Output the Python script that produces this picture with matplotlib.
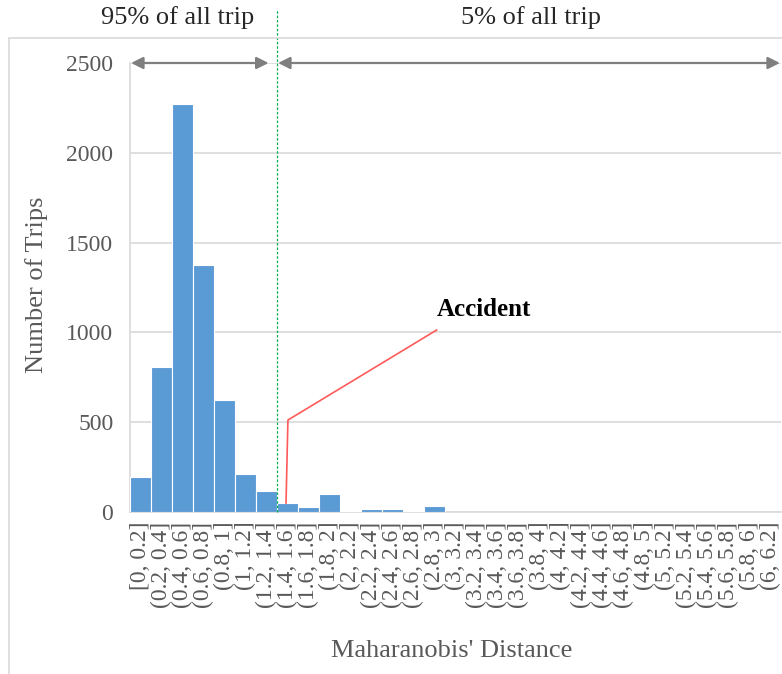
import matplotlib
matplotlib.use('Agg')
import matplotlib.pyplot as plt
from matplotlib.patches import Rectangle

bins = ['[0, 0.2]', '(0.2, 0.4]', '(0.4, 0.6]', '(0.6, 0.8]', '(0.8, 1]',
        '(1, 1.2]', '(1.2, 1.4]', '(1.4, 1.6]', '(1.6, 1.8]', '(1.8, 2]',
        '(2, 2.2]', '(2.2, 2.4]', '(2.4, 2.6]', '(2.6, 2.8]', '(2.8, 3]',
        '(3, 3.2]', '(3.2, 3.4]', '(3.4, 3.6]', '(3.6, 3.8]', '(3.8, 4]',
        '(4, 4.2]', '(4.2, 4.4]', '(4.4, 4.6]', '(4.6, 4.8]', '(4.8, 5]',
        '(5, 5.2]', '(5.2, 5.4]', '(5.4, 5.6]', '(5.6, 5.8]', '(5.8, 6]',
        '(6, 6.2]']
trips = [195, 807, 2272, 1375, 624, 212, 117, 50, 28, 100,
         5, 15, 15, 5, 33, 0, 0, 0, 0, 0,
         0, 0, 0, 0, 0, 0, 0, 0, 0, 0, 0]
yticks = [0, 500, 1000, 1500, 2000, 2500]
cut_idx = 7          # first bin beyond the 95% threshold
accident_idx = 7     # bin that holds the accident trip

plt.rcParams['font.family'] = ['Liberation Serif', 'DejaVu Serif']
grey_txt = '#595959'
light = '#D9D9D9'

fig = plt.figure(figsize=(7.82, 6.74), dpi=100)
# outer chart frame
fig.patches.append(Rectangle((9 / 782, -0.1), 1.2, 1.1 - 38 / 674, transform=fig.transFigure,
                             fill=False, edgecolor=light, lw=1.2))
ax = fig.add_axes([130 / 782, 1 - 512 / 674, 651 / 782, 449 / 674])

x = list(range(len(bins)))
ax.bar(x, trips, width=1.0, color='#5B9BD5', edgecolor='white', lw=0.8, zorder=3)
ax.set_xlim(-0.5, len(bins) - 0.5)
ax.set_ylim(0, 2500)
ax.set_yticks(yticks)
ax.set_xticks(x)
ax.set_xticklabels(bins, rotation=90, fontsize=17, color=grey_txt)
ax.tick_params(axis='y', labelsize=17, labelcolor=grey_txt, length=0, pad=12)
ax.tick_params(axis='x', length=0, pad=7)
ax.yaxis.grid(True, color=light, lw=1.2, zorder=0)
for s in ['top', 'right']:
    ax.spines[s].set_visible(False)
for s in ['left', 'bottom']:
    ax.spines[s].set_color(light)
    ax.spines[s].set_linewidth(1.2)

# 95% threshold line
ax.plot([cut_idx - 0.5, cut_idx - 0.5], [0, 2795], color='#00B050', lw=0.9,
        ls=(0, (2, 1.5)), clip_on=False, zorder=5)

# range arrows
arrow_kw = dict(arrowstyle='<|-|>', color='#7F7F7F', lw=1.6, mutation_scale=18,
                shrinkA=0, shrinkB=0)
ax.annotate('', xy=(-0.45, 2500), xytext=(cut_idx - 0.9, 2500),
            arrowprops=arrow_kw, annotation_clip=False)
ax.annotate('', xy=(cut_idx - 0.45, 2500), xytext=(len(bins) - 0.55, 2500),
            arrowprops=arrow_kw, annotation_clip=False)
fig.text(178 / 782, 1 - 18 / 674, '95% of all trip', fontsize=19, color='#262626',
         ha='center', va='center')
fig.text(531 / 782, 1 - 18 / 674, '5% of all trip', fontsize=19, color='#262626',
         ha='center', va='center')

# accident callout
ax.plot([accident_idx - 0.07, accident_idx + 0.02, 14.1],
        [trips[accident_idx], 512, 1013], color='#FF5A5A', lw=1.2, zorder=6)
fig.text(437 / 782, 1 - 310 / 674, 'Accident', fontsize=18, fontweight='bold',
         ha='left', va='center')

fig.text(37 / 782, 1 - 285 / 674, 'Number of Trips', fontsize=19, color=grey_txt,
         rotation=90, ha='center', va='center')
fig.text(452 / 782, 1 - 651 / 674, "Maharanobis' Distance", fontsize=19, color=grey_txt,
         ha='center', va='center')

fig.savefig('out.png', dpi=100)
